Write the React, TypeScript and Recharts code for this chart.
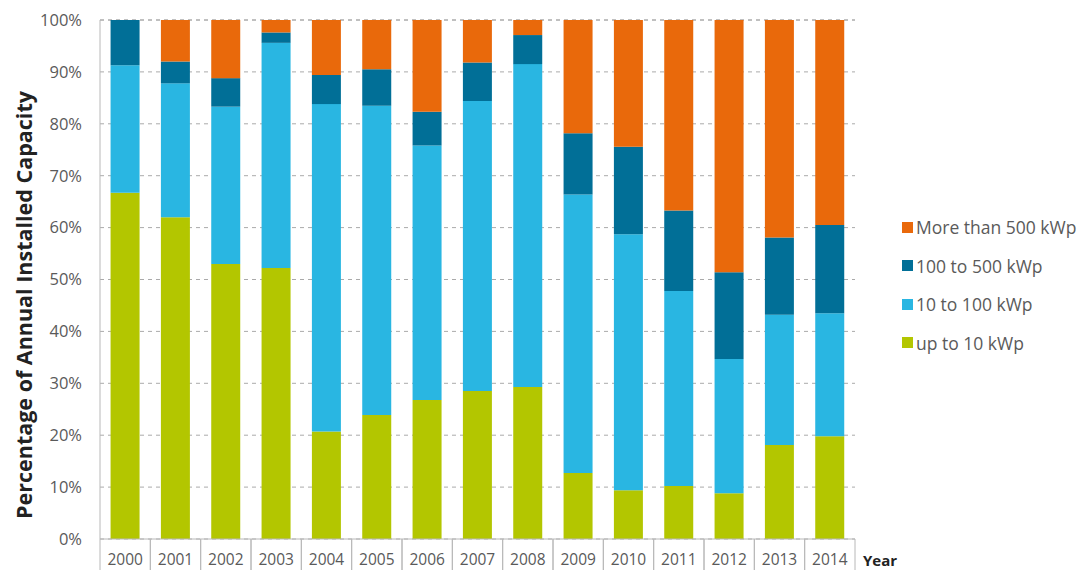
import { Bar, BarChart, CartesianGrid, Legend, XAxis, YAxis } from 'recharts';

const years = ['2000', '2001', '2002', '2003', '2004', '2005', '2006', '2007', '2008', '2009', '2010', '2011', '2012', '2013', '2014'];
const upTo10 = [66.7, 62.0, 53.0, 52.2, 20.7, 23.9, 26.8, 28.5, 29.3, 12.7, 9.4, 10.2, 8.8, 18.1, 19.8];
const from10to100 = [24.6, 25.8, 30.3, 43.4, 63.1, 59.6, 49.0, 55.9, 62.2, 53.7, 49.3, 37.6, 25.9, 25.1, 23.7];
const from100to500 = [8.7, 4.2, 5.5, 2.0, 5.6, 7.0, 6.5, 7.4, 5.6, 11.8, 16.9, 15.5, 16.7, 14.9, 17.0];
const moreThan500 = [0, 8.0, 11.2, 2.4, 10.6, 9.5, 17.7, 8.2, 2.9, 21.8, 24.4, 36.7, 48.6, 41.9, 39.5];
const yTicks = [0, 10, 20, 30, 40, 50, 60, 70, 80, 90, 100];

const series = [
  { key: 'upTo10', name: 'up to 10 kWp', color: '#b3c600' },
  { key: 'from10to100', name: '10 to 100 kWp', color: '#29b6e2' },
  { key: 'from100to500', name: '100 to 500 kWp', color: '#016f97' },
  { key: 'moreThan500', name: 'More than 500 kWp', color: '#e9690b' },
];

const data = years.map((year, i) => ({
  year,
  upTo10: upTo10[i],
  from10to100: from10to100[i],
  from100to500: from100to500[i],
  moreThan500: moreThan500[i],
}));

const FONT = '"Open Sans", sans-serif';
const TEXT = '#5a5a5a';
const LINE = '#b8b8b8';

const BAND = (855 - 100) / years.length;

function YearTick({ x = 0, y = 0, payload }: any) {
  return (
    <g>
      <line x1={x - BAND / 2} x2={x - BAND / 2} y1={y} y2={y + 32} stroke={LINE} />
      <line x1={x + BAND / 2} x2={x + BAND / 2} y1={y} y2={y + 32} stroke={LINE} />
      <text x={x} y={y + 26} textAnchor="middle" fill={TEXT} fontSize={15.5} fontFamily={FONT}>
        {payload.value}
      </text>
    </g>
  );
}

function SideLegend() {
  const items = [...series].reverse();
  return (
    <div style={{ fontFamily: FONT, fontSize: 17.5, color: TEXT, paddingLeft: 47 }}>
      {items.map((s) => (
        <div key={s.key} style={{ display: 'flex', alignItems: 'center', height: 38.5, whiteSpace: 'nowrap' }}>
          <span style={{ width: 11, height: 11, background: s.color, marginRight: 3, display: 'inline-block' }} />
          <span>{s.name}</span>
        </div>
      ))}
    </div>
  );
}

export default function App() {
  return (
    <div style={{ position: 'absolute', left: 0, top: 0, background: '#fff' }}>
      <BarChart
        width={1085}
        height={570}
        data={data}
        margin={{ top: 20, right: 0, left: 0, bottom: 0 }}
        barCategoryGap="21%"
      >
        <CartesianGrid vertical={false} stroke="#aaaaaa" strokeDasharray="4 4" />
        <XAxis
          dataKey="year"
          height={31}
          stroke={LINE}
          tickLine={false}
          tickSize={0}
          tickMargin={0}
          tick={<YearTick />}
          interval={0}
          label={({ viewBox }: any) => (
            <text
              x={viewBox.x + viewBox.width + 8}
              y={viewBox.y + 27}
              fill="#222"
              fontSize={15}
              fontWeight={700}
              fontFamily={FONT}
            >
              Year
            </text>
          )}
        />
        <YAxis
          width={100}
          domain={[0, 100]}
          ticks={yTicks}
          stroke={LINE}
          tickLine={false}
          tickSize={0}
          tickMargin={18}
          tickFormatter={(v) => `${v}%`}
          tick={{ fill: TEXT, fontSize: 16.5, fontFamily: FONT }}
          label={() => (
            <text
              x={32}
              y={305}
              transform="rotate(-90, 32, 305)"
              textAnchor="middle"
              fill="#222"
              fontSize={21.5}
              fontWeight={700}
              fontFamily={FONT}
            >
              Percentage of Annual Installed Capacity
            </text>
          )}
        />
        <Legend
          layout="vertical"
          align="right"
          verticalAlign="middle"
          width={230}
          content={<SideLegend />}
        />
        {series.map((s) => (
          <Bar key={s.key} dataKey={s.key} name={s.name} stackId="a" fill={s.color} isAnimationActive={false} />
        ))}
      </BarChart>
    </div>
  );
}
